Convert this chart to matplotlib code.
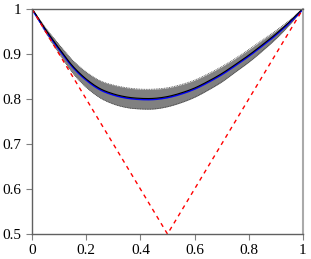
import numpy as np
import matplotlib.pyplot as plt

plt.rcParams['font.family'] = ['Liberation Serif', 'DejaVu Serif']

# значення кривої
x = [0, 0.05, 0.1, 0.15, 0.2, 0.25, 0.3, 0.35, 0.4, 0.45, 0.5,
     0.55, 0.6, 0.65, 0.7, 0.75, 0.8, 0.85, 0.9, 0.95, 1]
y = [1, 0.953, 0.911, 0.872, 0.843, 0.822, 0.810, 0.803, 0.800, 0.800, 0.804,
     0.812, 0.823, 0.838, 0.855, 0.875, 0.896, 0.919, 0.943, 0.970, 1]
# напівширина сірої смуги
hw = [0, 0.005, 0.010, 0.014, 0.017, 0.019, 0.021, 0.022, 0.022, 0.022, 0.021,
      0.020, 0.019, 0.018, 0.017, 0.015, 0.014, 0.012, 0.009, 0.005, 0]
# червона пунктирна межа
bx = [0, 0.5, 1]
by = [1, 0.5, 1]

xt = [0, 0.2, 0.4, 0.6, 0.8, 1]
xtl = ['0', '0.2', '0.4', '0.6', '0.8', '1']
yt = [0.5, 0.6, 0.7, 0.8, 0.9, 1]
ytl = ['0.5', '0.6', '0.7', '0.8', '0.9', '1']

# Catmull-Rom для плавної кривої через зчитані точки
def smooth(xp, yp, n=10):
    xp = np.asarray(xp, float)
    yp = np.asarray(yp, float)
    px = np.concatenate([[2 * xp[0] - xp[1]], xp, [2 * xp[-1] - xp[-2]]])
    py = np.concatenate([[2 * yp[0] - yp[1]], yp, [2 * yp[-1] - yp[-2]]])
    ox, oy = [], []
    for i in range(1, len(px) - 2):
        t = np.linspace(0, 1, n, endpoint=False)
        for p, o in ((px, ox), (py, oy)):
            p0, p1, p2, p3 = p[i - 1], p[i], p[i + 1], p[i + 2]
            o.extend(0.5 * (2 * p1 + (-p0 + p2) * t + (2 * p0 - 5 * p1 + 4 * p2 - p3) * t ** 2
                            + (-p0 + 3 * p1 - 3 * p2 + p3) * t ** 3))
    ox.append(xp[-1])
    oy.append(yp[-1])
    return np.array(ox), np.array(oy)

xs, ys = smooth(x, y)
_, hs = smooth(x, hw)
hs = np.clip(hs, 0, None)

fig = plt.figure(figsize=(3.11, 2.59), dpi=100)
ax = fig.add_axes([0.103, 0.0965, 0.871, 0.8685])

ax.fill_between(xs, ys - hs, ys + hs, color='#808080', lw=0)
ax.plot(xs, ys + hs, color='#404040', lw=0.6, ls=(0, (1, 1)))
ax.plot(xs, ys - hs, color='#404040', lw=0.6, ls=(0, (1, 1)))
ax.plot(xs, ys - 0.001, color='blue', lw=1.1)
ax.plot(xs, ys + 0.0015, color='black', lw=0.8)
ax.plot(bx, by, color='red', lw=1.0, ls=(0, (3, 3)))

ax.set_xlim(0, 1)
ax.set_ylim(0.5, 1)
ax.set_xticks(xt)
ax.set_xticklabels(xtl)
ax.set_yticks(yt)
ax.set_yticklabels(ytl)
ax.tick_params(direction='out', length=4, width=0.8, color='#808080', labelsize=11)
for s in ['left', 'bottom', 'top']:
    ax.spines[s].set_color('#606060')
    ax.spines[s].set_linewidth(1.0)
ax.spines['right'].set_color('#aaaaaa')
ax.spines['right'].set_linewidth(1.5)

fig.savefig('out.png', dpi=100)
